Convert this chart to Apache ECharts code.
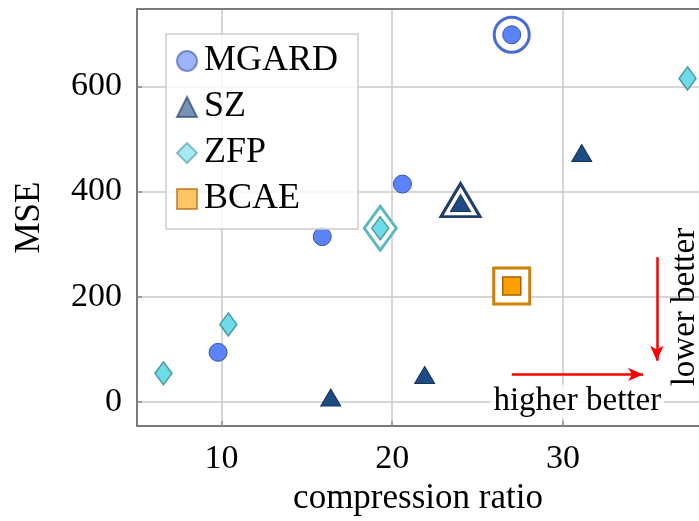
<!DOCTYPE html>
<html>
<head>
<meta charset="utf-8">
<script src="https://cdn.jsdelivr.net/npm/echarts@6/dist/echarts.min.js"></script>
<style>
  html, body { margin: 0; padding: 0; background: #fff; }
  #scatter-chart { width: 699px; height: 521px; }
</style>
</head>
<body>
<div id="scatter-chart"></div>
<script>
// data: [compression ratio, MSE]
const mgardPoints = [[9.8, 94], [15.9, 314], [20.6, 414]]
const szPoints = [[16.4, 8], [21.9, 51], [31.1, 473]]
const zfpPoints = [[6.6, 54], [10.4, 147], [37.3, 615]]
// highlighted (best) setting of each method
const mgardBest = [27.0, 698]
const szBest = [24.0, 378]
const zfpBest = [19.3, 330]
const bcaeBest = [27.0, 220]

const xTicks = [10, 20, 30]
const yTicks = [0, 200, 400, 600]
const legendNames = ['MGARD', 'SZ', 'ZFP', 'BCAE']

const FONT = '"Liberation Serif", "DejaVu Serif", serif'
const X_MIN = 5.05
const X_MAX = 37.97

const chartInstance = echarts.init(document.getElementById('scatter-chart'))

const ring = (name, data, symbol, size, color, offset) => ({
  name: name + '-best',
  type: 'scatter',
  z: 2,
  symbol: symbol,
  symbolSize: size,
  symbolOffset: offset || [0, 0],
  silent: true,
  itemStyle: { color: '#ffffff', borderColor: color, borderWidth: 3, opacity: 1 },
  data: [data]
})

const option = {
  animation: false,
  textStyle: { fontFamily: FONT },
  grid: {
    left: 137,
    right: 0,
    top: 9,
    bottom: 94
  },
  legend: {
    data: legendNames,
    orient: 'vertical',
    left: 166,
    top: 34,
    itemWidth: 20,
    itemHeight: 20,
    itemGap: 10,
    padding: [9, 20, 12, 10],
    backgroundColor: 'rgba(255,255,255,0.8)',
    borderColor: '#cccccc',
    borderWidth: 1.5,
    itemStyle: { opacity: 0.6 },
    textStyle: { fontFamily: FONT, fontSize: 36, color: '#000', padding: [0, 0, 0, 2] }
  },
  xAxis: [
    {
      type: 'value',
      min: X_MIN,
      max: X_MAX,
      name: 'compression ratio',
      nameLocation: 'middle',
      nameGap: 53,
      nameTextStyle: { fontFamily: FONT, fontSize: 35, color: '#000' },
      axisLine: { show: true, onZero: false, lineStyle: { color: '#7a7a7a', width: 2 } },
      axisTick: { show: true, inside: true, length: 5, customValues: xTicks, lineStyle: { color: '#8a8a8a', width: 1.5 } },
      axisLabel: { customValues: xTicks, margin: 16, fontFamily: FONT, fontSize: 34, color: '#000' },
      splitLine: { show: true, lineStyle: { color: '#c8c8c8', width: 1.5 } }
    },
    {
      // top frame line only
      type: 'value',
      position: 'top',
      min: X_MIN,
      max: X_MAX,
      axisLine: { show: true, onZero: false, lineStyle: { color: '#7a7a7a', width: 2 } },
      axisTick: { show: false },
      axisLabel: { show: false },
      splitLine: { show: false }
    }
  ],
  yAxis: {
    type: 'value',
    min: -46.3,
    max: 747,
    name: 'MSE',
    nameLocation: 'middle',
    nameGap: 90,
    nameTextStyle: { fontFamily: FONT, fontSize: 35, color: '#000' },
    axisLine: { show: true, onZero: false, lineStyle: { color: '#7a7a7a', width: 2 } },
    axisTick: { show: true, inside: true, length: 5, customValues: yTicks, lineStyle: { color: '#8a8a8a', width: 1.5 } },
    axisLabel: { customValues: yTicks, margin: 15, fontFamily: FONT, fontSize: 34, color: '#000' },
    splitLine: { show: true, lineStyle: { color: '#c8c8c8', width: 1.5 } }
  },
  series: [
    ring('MGARD', mgardBest, 'circle', 35, '#4a6ad8'),
    ring('SZ', szBest, 'triangle', [39, 33], '#1f3f6a', [0, -3]),
    ring('ZFP', zfpBest, 'diamond', [32, 44], '#5ab8c4'),
    ring('BCAE', bcaeBest, 'rect', 36, '#d08000'),
    {
      name: 'MGARD',
      type: 'scatter',
      z: 3,
      symbol: 'circle',
      symbolSize: 18,
      itemStyle: { color: '#5b82f7', borderColor: '#3a52b0', borderWidth: 1, opacity: 1 },
      data: mgardPoints.concat([mgardBest])
    },
    {
      name: 'SZ',
      type: 'scatter',
      z: 3,
      symbol: 'triangle',
      symbolSize: [20, 17],
      itemStyle: { color: '#1f4b85', borderColor: '#17335a', borderWidth: 1, opacity: 1 },
      data: szPoints.concat([szBest])
    },
    {
      name: 'ZFP',
      type: 'scatter',
      z: 3,
      symbol: 'diamond',
      symbolSize: [17, 23],
      itemStyle: { color: '#6ddbe8', borderColor: '#4a9aa2', borderWidth: 1.5, opacity: 1 },
      data: zfpPoints.concat([zfpBest])
    },
    {
      name: 'BCAE',
      type: 'scatter',
      z: 3,
      symbol: 'rect',
      symbolSize: 18,
      itemStyle: { color: '#ff9f00', borderColor: '#a85c00', borderWidth: 1.5, opacity: 1 },
      data: [bcaeBest],
      markLine: {
        silent: true,
        symbol: ['none', 'arrow'],
        symbolSize: [10, 15],
        label: { show: false },
        lineStyle: { color: '#ff0000', width: 2.5, type: 'solid' },
        data: [
          [{ coord: [27.0, 52] }, { coord: [34.7, 52] }],
          [{ coord: [35.5, 275] }, { coord: [35.5, 78] }]
        ]
      },
      markPoint: {
        silent: true,
        symbol: 'rect',
        symbolSize: 1,
        itemStyle: { color: 'rgba(0,0,0,0)' },
        data: [
          {
            coord: [30.84, 1],
            label: {
              show: true,
              position: 'inside',
              formatter: 'higher better',
              fontFamily: FONT,
              fontSize: 33,
              color: '#000',
              backgroundColor: 'rgba(255,255,255,0.8)',
              padding: [0, 3]
            }
          },
          {
            coord: [37.18, 180],
            label: {
              show: true,
              position: 'inside',
              rotate: 90,
              formatter: 'lower better',
              fontFamily: FONT,
              fontSize: 33,
              color: '#000'
            }
          }
        ]
      }
    }
  ]
}

chartInstance.setOption(option)
</script>
</body>
</html>
